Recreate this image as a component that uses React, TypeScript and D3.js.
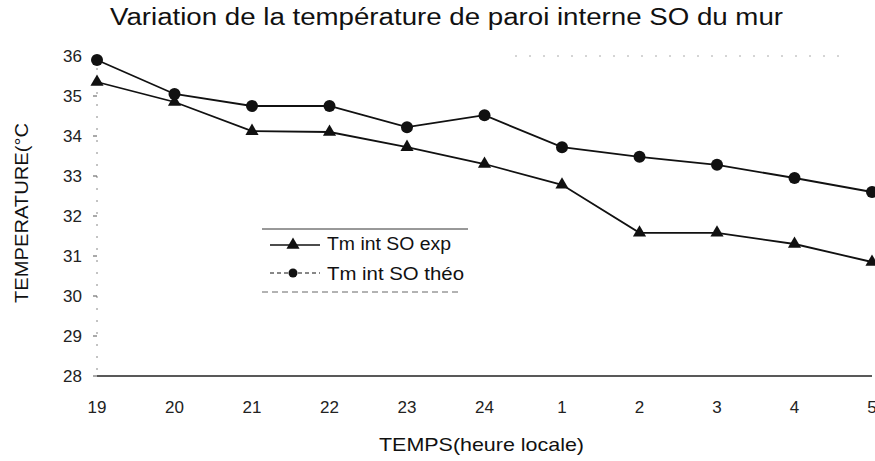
import React from "react";
import * as d3 from "d3";

const categories = ["19", "20", "21", "22", "23", "24", "1", "2", "3", "4", "5"];
const expValues = [35.35, 34.85, 34.12, 34.1, 33.72, 33.3, 32.78, 31.58, 31.58, 31.3, 30.85];
const theoValues = [35.9, 35.05, 34.75, 34.75, 34.22, 34.52, 33.72, 33.48, 33.28, 32.95, 32.6];
const yTicks = [28, 29, 30, 31, 32, 33, 34, 35, 36];

const W = 875;
const H = 461;
const left = 97;
const right = 872;
const top = 56;
const bottom = 376;

export default function App() {
  const x = d3.scalePoint<string>().domain(categories).range([left, right]);
  const y = d3.scaleLinear().domain([28, 36]).range([bottom, top]);
  const line = d3
    .line<number>()
    .x((_, i) => x(categories[i]) as number)
    .y((d) => y(d));
  const tri = d3.symbol().type(d3.symbolTriangle).size(75)();
  const font = "'Liberation Sans', Arial, sans-serif";

  return (
    <svg
      width={W}
      height={H}
      style={{ position: "absolute", left: 0, top: 0, background: "#fff" }}
      fontFamily={font}
    >
      <text x={110} y={25} fontSize={23} fill="#111" textLength={673} lengthAdjust="spacingAndGlyphs">
        Variation de la température de paroi interne SO du mur
      </text>
      {/* faint artifact line near top */}
      <line x1={515} x2={850} y1={56} y2={56} stroke="#aaa" strokeDasharray="2 12" strokeWidth={1} />

      {/* y axis */}
      <line x1={left} x2={left} y1={top} y2={bottom} stroke="#888" strokeDasharray="2 10" strokeWidth={1} />
      {yTicks.map((t) => (
        <g key={t}>
          <line x1={left - 4} x2={left} y1={y(t)} y2={y(t)} stroke="#555" strokeWidth={1} />
          <text x={82} y={y(t) + 6} textAnchor="end" fontSize={17} fill="#222">
            {t}
          </text>
        </g>
      ))}
      {/* x axis */}
      <line x1={left} x2={right} y1={bottom} y2={bottom} stroke="#222" strokeWidth={1.4} />
      {categories.map((c) => (
        <text key={c} x={x(c) as number} y={413} textAnchor="middle" fontSize={17} fill="#222">
          {c}
        </text>
      ))}

      <text x={379} y={451} fontSize={19} fill="#111" textLength={205} lengthAdjust="spacingAndGlyphs">
        TEMPS(heure locale)
      </text>
      <text
        transform={`translate(28,303) rotate(-90)`}
        fontSize={19}
        fill="#111"
        textLength={180}
        lengthAdjust="spacingAndGlyphs"
      >
        TEMPERATURE(°C
      </text>

      {/* series */}
      <path d={line(expValues) || ""} fill="none" stroke="#111" strokeWidth={1.8} />
      <path d={line(theoValues) || ""} fill="none" stroke="#111" strokeWidth={1.8} />
      {expValues.map((v, i) => (
        <path
          key={"e" + i}
          d={tri}
          transform={`translate(${x(categories[i])},${y(v)})`}
          fill="#111"
        />
      ))}
      {theoValues.map((v, i) => (
        <circle key={"t" + i} cx={x(categories[i]) as number} cy={y(v)} r={6} fill="#111" />
      ))}

      {/* legend */}
      <line x1={262} x2={468} y1={229} y2={229} stroke="#333" strokeWidth={1} />
      <line x1={262} x2={462} y1={292} y2={292} stroke="#666" strokeWidth={1} strokeDasharray="6 4" />
      <line x1={270} x2={320} y1={245} y2={245} stroke="#111" strokeWidth={1.6} />
      <path d={tri} transform="translate(293,245)" fill="#111" />
      <text x={327} y={250} fontSize={18} fill="#111" textLength={124} lengthAdjust="spacingAndGlyphs">
        Tm int SO exp
      </text>
      <line x1={270} x2={320} y1={273} y2={273} stroke="#111" strokeWidth={1} strokeDasharray="4 3" />
      <circle cx={293} cy={273} r={4.5} fill="#111" />
      <text x={327} y={280} fontSize={18} fill="#111" textLength={137} lengthAdjust="spacingAndGlyphs">
        Tm int SO théo
      </text>
    </svg>
  );
}
